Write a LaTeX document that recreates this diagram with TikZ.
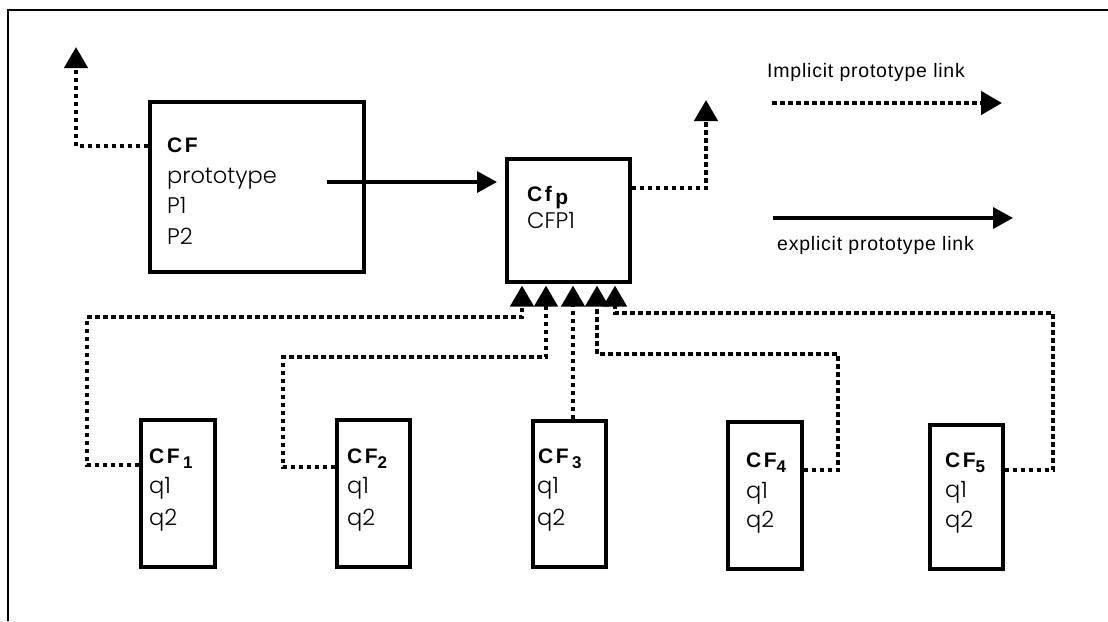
\documentclass[tikz,border=0pt]{standalone}
\usepackage{fontspec}
\setmainfont{Poppins}[UprightFont=* Light]
\newfontfamily\boldf{Liberation Sans}[LetterSpace=12]
\newfontfamily\legf{Liberation Sans}[LetterSpace=4]
\usetikzlibrary{arrows.meta}
\newcommand\subx[1]{\raisebox{-5pt}{\fontsize{17}{19}\selectfont #1}}
\begin{document}
\begin{tikzpicture}[x=1pt,y=-1pt,
  box/.style={draw, line width=3.5pt, inner sep=0pt, anchor=north west},
  dotl/.style={line width=4.5pt, dash pattern=on 4.5pt off 3.5pt},
  soll/.style={line width=3.5pt},
  tipa/.style={-{Triangle[length=21pt,width=23pt]}},
  tipb/.style={-{Triangle[length=20pt,width=21pt]}},
  txt/.style={anchor=base west, inner sep=0pt, font=\fontsize{22.5}{26}\selectfont},
  lbl/.style={anchor=base west, inner sep=0pt, font=\boldf\bfseries\fontsize{21}{24}\selectfont},
  leg/.style={anchor=base west, inner sep=0pt, font=\legf\fontsize{19.5}{22}\selectfont},
]
\useasboundingbox (0,0) rectangle (1108,621);
% frame
\draw[line width=1.5pt] (8,621) -- (8,10) -- (1108,10);

% boxes
\node[box, minimum width=214pt, minimum height=170pt] (cf) at (148,100) {};
\node[box, minimum width=123pt, minimum height=123pt] (cfp) at (505,157) {};
\node[box, minimum width=74pt, minimum height=147pt] (cf1) at (139,418) {};
\node[box, minimum width=73pt, minimum height=147pt] (cf2) at (335,418) {};
\node[box, minimum width=73pt, minimum height=146pt] (cf3) at (531,419) {};
\node[box, minimum width=74pt, minimum height=147pt] (cf4) at (726,420) {};
\node[box, minimum width=73pt, minimum height=144pt] (cf5) at (928,423) {};

% texts
\node[lbl] (cft) at (167,152) {CF};
\node[txt] (cfa) at (167,183) {prototype};
\node[txt] (cfb) at (167,213) {P1};
\node[txt] (cfc) at (167,244) {P2};

\node[lbl] (cfpt) at (527,201) {Cf\,\raisebox{-3pt}{p}};
\node[txt] (cfpa) at (527,228) {CFP1};

\node[lbl] (c1t) at (149,463) {CF\,\subx{1}};
\node[txt] (c1a) at (149,493) {q1};
\node[txt] (c1b) at (149,525) {q2};

\node[lbl] (c2t) at (347,463) {CF\subx{2}};
\node[txt] (c2a) at (347,493) {q1};
\node[txt] (c2b) at (347,525) {q2};

\node[lbl] (c3t) at (538,463) {CF\,\subx{3}};
\node[txt] (c3a) at (537,493) {q1};
\node[txt] (c3b) at (537,525) {q2};

\node[lbl] (c4t) at (746,467) {CF\subx{4}};
\node[txt] (c4a) at (746,498) {q1};
\node[txt] (c4b) at (746,527) {q2};

\node[lbl] (c5t) at (945,467) {CF\subx{5}};
\node[txt] (c5a) at (945,497) {q1};
\node[txt] (c5b) at (945,527) {q2};

% connectors
\coordinate (t0) at (76,47);
\draw[dotl,tipa] ([yshift=-46pt]cf.north west) -| (t0);
\coordinate (s0) at (327,182);
\draw[soll,tipb,shorten >=8pt] (s0) -- (s0 -| cfp.west);
\coordinate (t1) at (706,100);
\draw[dotl,tipa] ([yshift=-31pt]cfp.north east) -| (t1);

\draw[dotl,tipa] ([yshift=-47pt]cf1.north west) -| (87,317) -| ([xshift=17pt,yshift=-2pt]cfp.south west);
\draw[dotl,tipa] ([yshift=-49pt]cf2.north west) -| (283,357) -| ([xshift=41pt,yshift=-2pt]cfp.south west);
\draw[dotl,tipa] ([xshift=42pt]cf3.north west) -- ([xshift=68pt,yshift=-2pt]cfp.south west);
\draw[dotl,tipa] ([yshift=-50pt]cf4.north east) -| (838,354) -| ([xshift=92pt,yshift=-2pt]cfp.south west);
\draw[dotl,tipa] ([yshift=-47pt]cf5.north east) -| (1053,313) -| ([xshift=110pt,yshift=-2pt]cfp.south west);

% legend
\node[leg] (imp) at (767,77) {Implicit prototype link};
\coordinate (d0) at (772,103);
\coordinate (d1) at (1002,103);
\draw[dotl,tipa] (d0) -- (d1);
\coordinate (e0) at (773,218);
\coordinate (e1) at (1013,218);
\draw[soll,tipb] (e0) -- (e1);
\node[leg] (exp) at (777,250) {explicit prototype link};
\end{tikzpicture}
\end{document}
